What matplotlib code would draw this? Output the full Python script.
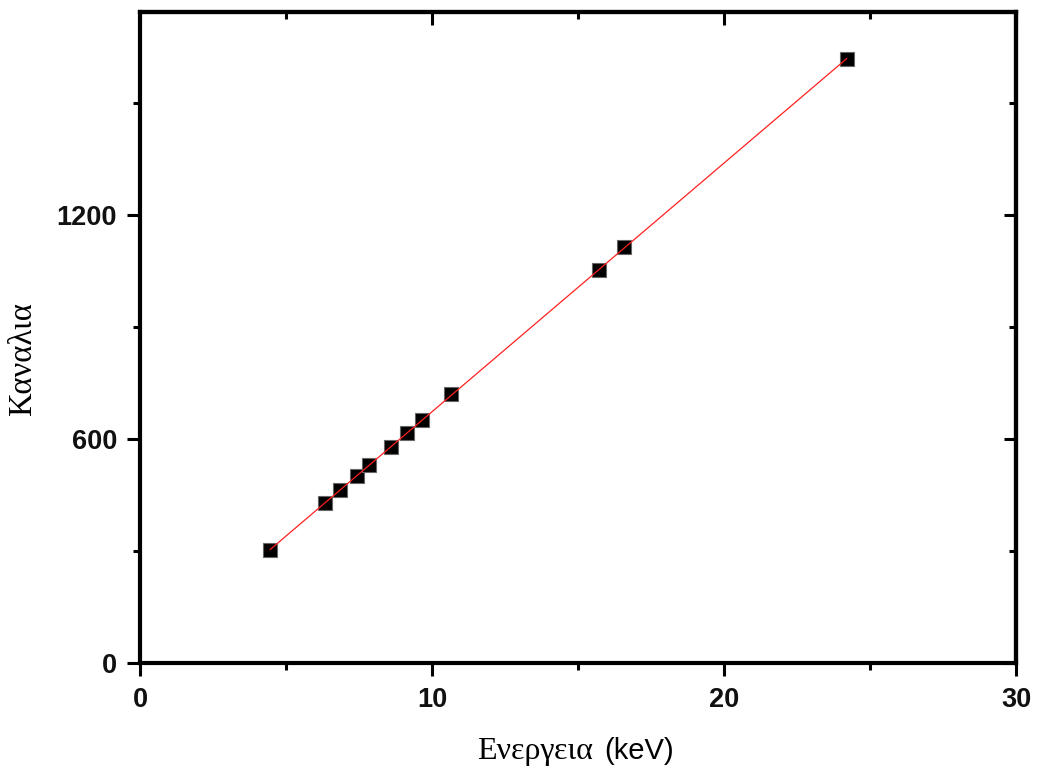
import numpy as np
import matplotlib
matplotlib.use("Agg")
import matplotlib.pyplot as plt
from matplotlib.ticker import MultipleLocator

energy_kev = [4.46, 6.35, 6.85, 7.43, 7.85, 8.61, 9.13, 9.66, 10.66, 15.71, 16.59, 24.20]
channels = [303, 429, 464, 502, 530, 578, 615, 651, 720, 1054, 1114, 1617]
x_ticks = [0, 10, 20, 30]
y_ticks = [0, 600, 1200]

W, H = 1042, 772
fig = plt.figure(figsize=(W / 100, H / 100), dpi=100)
ax = fig.add_axes([140 / W, 1 - 663 / H, (1016 - 140) / W, (663 - 12) / H])

x = np.array(energy_kev)
y = np.array(channels)
ax.plot(x, y, 's', ms=10.5, mfc='black', mec='#666666', mew=0.8, zorder=3)
p = np.polyfit(x, y, 1)
xf = np.array([x.min(), x.max()])
ax.plot(xf, np.polyval(p, xf), '-', color='#ff2020', lw=0.9, zorder=4)

ax.set_xlim(0, 30)
ax.set_ylim(0, 1744)
ax.set_xticks(x_ticks)
ax.set_yticks(y_ticks)
ax.xaxis.set_minor_locator(MultipleLocator(5))
ax.yaxis.set_minor_locator(MultipleLocator(300))

for s in ax.spines.values():
    s.set_linewidth(3)

ax.tick_params(which='major', direction='out', length=9.5, width=2.2,
               labelsize=19.5, pad=7)
ax.tick_params(which='minor', direction='out', length=5, width=2.2)
ax.tick_params(axis='x', which='major', pad=8)
# right and top: inward ticks, no labels
ax2 = ax.secondary_yaxis('right')
ax2.set_yticks(y_ticks)
ax2.yaxis.set_minor_locator(MultipleLocator(300))
ax2.tick_params(which='major', direction='in', length=9, width=2.2, labelright=False)
ax2.tick_params(which='minor', direction='in', length=5, width=2.2)
ax2.spines['right'].set_linewidth(3)
ax3 = ax.secondary_xaxis('top')
ax3.set_xticks(x_ticks)
ax3.xaxis.set_minor_locator(MultipleLocator(5))
ax3.tick_params(which='major', direction='in', length=9, width=2.2, labeltop=False)
ax3.tick_params(which='minor', direction='in', length=5, width=2.2)
ax3.spines['top'].set_linewidth(3)

for lab in ax.get_xticklabels() + ax.get_yticklabels():
    lab.set_fontfamily('Liberation Sans')
    lab.set_fontweight('bold')
    lab.set_color('#111111')

# axis labels
fig.text(593 / W, 1 - 759 / H, 'Ενεργεια', ha='right', va='baseline',
         fontsize=23, family=['Liberation Serif', 'DejaVu Serif'])
fig.text(604 / W, 1 - 759 / H, '(keV)', ha='left', va='baseline',
         fontsize=21, family=['Liberation Sans', 'DejaVu Sans'])
fig.text(23 / W, 1 - 359 / H, 'Καναλια', ha='center', va='center', rotation=90,
         fontsize=23.5, family=['Liberation Serif', 'DejaVu Serif'])

fig.savefig('out.png', dpi=100)
